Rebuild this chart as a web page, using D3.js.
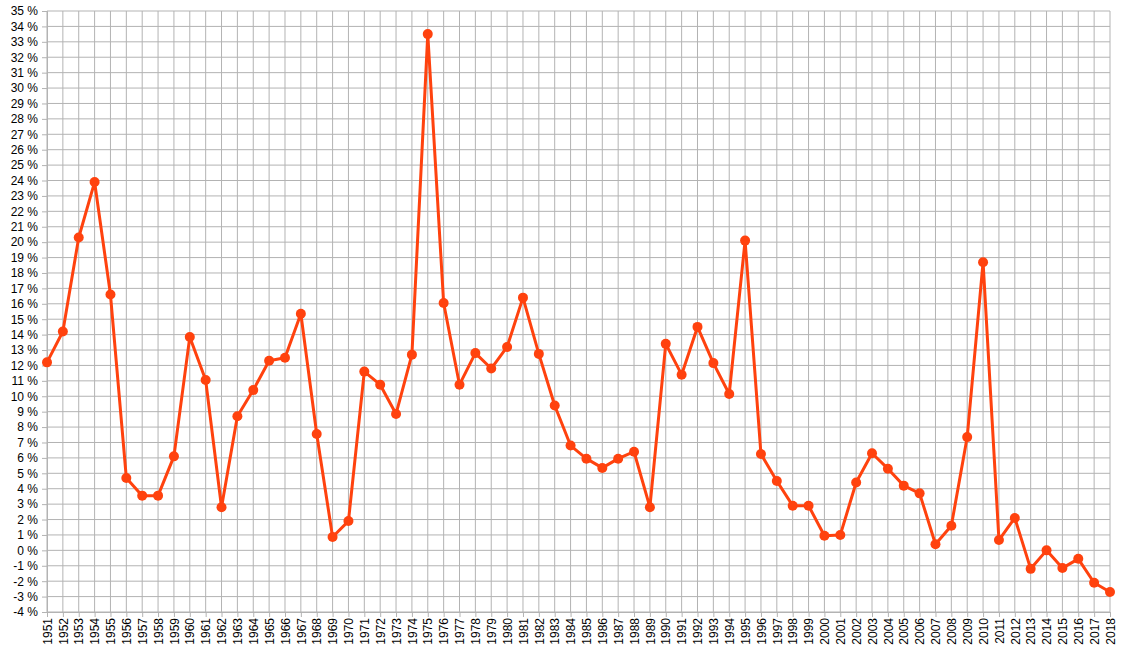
<!DOCTYPE html>
<html>
<head>
<meta charset="utf-8">
<script src="https://cdn.jsdelivr.net/npm/d3@7"></script>
<style>
  body { margin: 0; background: #fff; }
  svg text { font-family: "Liberation Sans", Arial, sans-serif; font-size: 12px; fill: #000; }
</style>
</head>
<body>
<div id="chart"></div>
<script>
// years on the x axis
var years = d3.range(1951, 2019);

// yearly change in percent
var values = [
  12.2, 14.2, 20.3, 23.9, 16.6, 4.7, 3.55, 3.55, 6.1, 13.85,
  11.05, 2.8, 8.7, 10.4, 12.3, 12.5, 15.35, 7.55, 0.87, 1.9,
  11.6, 10.75, 8.85, 12.7, 33.5, 16.05, 10.75, 12.8, 11.8, 13.2,
  16.4, 12.75, 9.4, 6.8, 5.95, 5.35, 5.95, 6.4, 2.8, 13.4,
  11.4, 14.5, 12.15, 10.15, 20.1, 6.25, 4.5, 2.9, 2.9, 0.95,
  1.0, 4.4, 6.3, 5.3, 4.2, 3.7, 0.4, 1.6, 7.35, 18.7,
  0.67, 2.1, -1.2, 0, -1.15, -0.55, -2.1, -2.7
];

// y tick labels
var yTicks = d3.range(-4, 36);

var data = years.map(function (y, i) { return { year: y, value: values[i] }; });

// set the size of the graph
var margin = { top: 11, right: 13, bottom: 49, left: 47 },
    width = 1123 - margin.left - margin.right,
    height = 661 - margin.top - margin.bottom;

var x = d3.scaleLinear()
    .domain([1951, 2018])
    .range([0, width]);
var y = d3.scaleLinear()
    .domain([-4, 35])
    .range([height, 0]);

var svg = d3.select("#chart").append("svg")
    .attr("width", 1123)
    .attr("height", 661)
    .append("g")
    .attr("transform", "translate(" + margin.left + "," + margin.top + ")");

// grid lines
svg.append("g")
    .selectAll("line")
    .data(yTicks)
    .enter().append("line")
    .attr("x1", 0).attr("x2", width)
    .attr("y1", function (d) { return y(d); })
    .attr("y2", function (d) { return y(d); })
    .attr("stroke", "#b3b3b3");

svg.append("g")
    .selectAll("line")
    .data(years)
    .enter().append("line")
    .attr("y1", 0).attr("y2", height)
    .attr("x1", function (d) { return x(d); })
    .attr("x2", function (d) { return x(d); })
    .attr("stroke", "#b3b3b3");

// y axis
var yAxis = svg.append("g")
    .call(d3.axisLeft(y)
        .tickValues(yTicks)
        .tickSize(5)
        .tickPadding(4)
        .tickFormat(function (d) { return d + " %"; }));
yAxis.select(".domain").attr("stroke", "#b3b3b3");
yAxis.selectAll(".tick line").attr("stroke", "#b3b3b3");
yAxis.selectAll("text").attr("font-size", null).attr("font-family", null);

// x axis
var xAxis = svg.append("g")
    .attr("transform", "translate(0," + height + ")")
    .call(d3.axisBottom(x)
        .tickValues(years)
        .tickSize(5)
        .tickFormat(d3.format("d")));
xAxis.select(".domain").attr("stroke", "#b3b3b3");
xAxis.selectAll(".tick line").attr("stroke", "#b3b3b3");
xAxis.selectAll("text")
    .attr("font-size", null).attr("font-family", null)
    .attr("transform", "rotate(-90)")
    .attr("text-anchor", "end")
    .attr("x", -6)
    .attr("y", 0)
    .attr("dy", "0.35em");

// the line
var line = d3.line()
    .x(function (d) { return x(d.year); })
    .y(function (d) { return y(d.value); });

svg.append("path")
    .datum(data)
    .attr("fill", "none")
    .attr("stroke", "#ff420e")
    .attr("stroke-width", 3)
    .attr("stroke-linejoin", "round")
    .attr("d", line);

// the points
svg.selectAll(".dot")
    .data(data)
    .enter().append("circle")
    .attr("class", "dot")
    .attr("cx", function (d) { return x(d.year); })
    .attr("cy", function (d) { return y(d.value); })
    .attr("r", 5)
    .attr("fill", "#ff420e");
</script>
</body>
</html>
